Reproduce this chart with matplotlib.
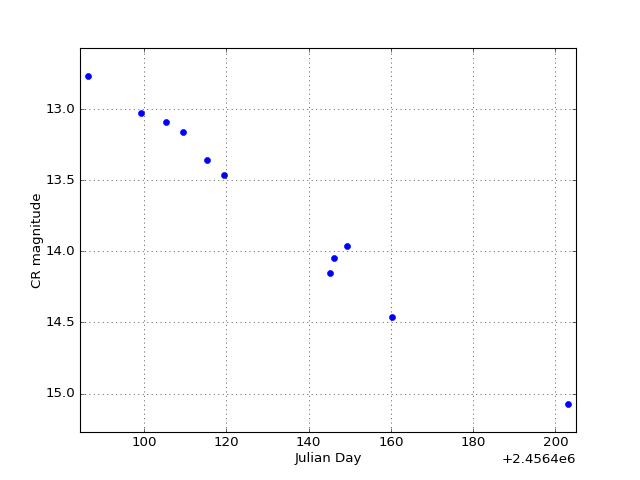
import matplotlib
matplotlib.use("Agg")
import matplotlib.pyplot as plt

plt.style.use("classic")

# Julian day (offset 2456400) and CR magnitude
jd_offset = 2456400
jd = [86.4, 99.3, 105.3, 109.4, 115.3, 119.4, 145.1, 146.1, 149.2, 160.2, 203.0]
mag = [12.77, 13.03, 13.09, 13.16, 13.36, 13.46, 14.15, 14.05, 13.96, 14.46, 15.07]

x = [d + jd_offset for d in jd]

fig = plt.figure(figsize=(8, 6), facecolor="white")
ax = fig.add_subplot(111)
ax.plot(x, mag, "o", color="b", markeredgecolor="b", markersize=5.5)
ax.set_xlim(min(x) - 2, max(x) + 2)
ax.set_ylim(max(mag) + 0.2, min(mag) - 0.2)
ax.ticklabel_format(axis="x", useOffset=jd_offset)
ax.grid(True)
ax.set_xlabel("Julian Day", labelpad=2)
ax.set_ylabel("CR magnitude", labelpad=2)

fig.savefig("out.png", dpi=80, facecolor="white")
